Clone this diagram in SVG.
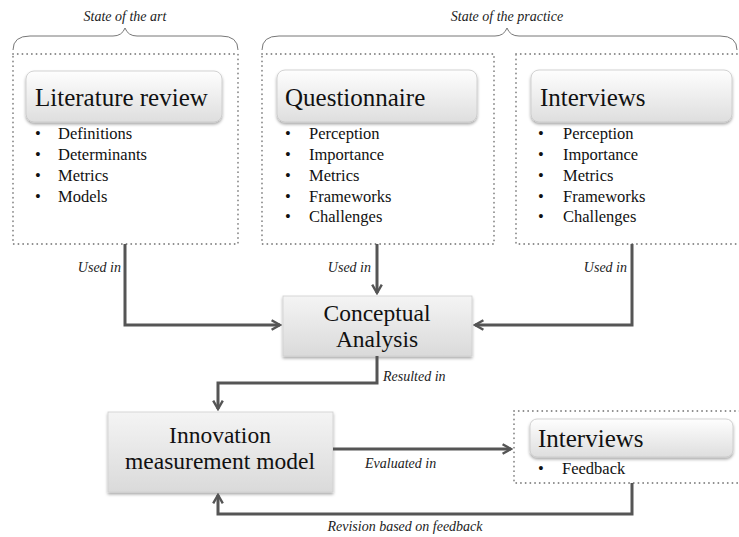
<svg xmlns="http://www.w3.org/2000/svg" width="739" height="537" viewBox="0 0 739 537">
<defs>
<linearGradient id="hg" x1="0" y1="0" x2="0" y2="1"><stop offset="0" stop-color="#fefefe"/><stop offset="1" stop-color="#dedede"/></linearGradient>
<linearGradient id="bg" x1="0" y1="0" x2="0" y2="1"><stop offset="0" stop-color="#f4f4f4"/><stop offset="1" stop-color="#dadada"/></linearGradient>
<filter id="sh" x="-10%" y="-10%" width="120%" height="130%"><feDropShadow dx="0" dy="2" stdDeviation="1.5" flood-color="#000" flood-opacity="0.35"/></filter>
<marker id="ah" viewBox="0 0 10 10" refX="8" refY="5" markerWidth="4" markerHeight="4" orient="auto" markerUnits="strokeWidth"><path d="M1,1 L8,5 L1,9" fill="none" stroke="#555" stroke-width="2"/></marker>
</defs>
<style>
.dot{fill:none;stroke:#8a8a8a;stroke-width:1.8;stroke-dasharray:0.1 4.6;stroke-linecap:round}
.hdr{fill:url(#hg);stroke:#c8c8c8;stroke-width:0.8;filter:url(#sh)}
.blk{fill:url(#bg);stroke:#cfcfcf;stroke-width:0.8;filter:url(#sh)}
.ht{font-family:"Liberation Serif",serif;font-size:25px;fill:#111}
.bt{font-family:"Liberation Serif",serif;font-size:23.5px;fill:#111;text-anchor:middle}
.li{font-family:"Liberation Serif",serif;font-size:16.5px;fill:#111}
.lab{font-family:"Liberation Serif",serif;font-style:italic;font-size:14px;fill:#222}
.brace{fill:none;stroke:#777;stroke-width:1}
.con{fill:none;stroke:#555;stroke-width:3;marker-end:url(#ah)}
</style>
<g id="brace-art">
<path class="brace" d="M13,50 Q13,36 30,36 L113,36 Q122,36 125,28 Q128,36 137,36 L221,36 Q238,36 238,50"/>
<text class="lab" x="125" y="21" text-anchor="middle">State of the art</text>
</g>
<g id="brace-practice">
<path class="brace" d="M262,50 Q262,36 279,36 L495,36 Q504,36 507,28 Q510,36 519,36 L720,36 Q737,36 737,50"/>
<text class="lab" x="507" y="21" text-anchor="middle">State of the practice</text>
</g>
<g id="literature">
<rect class="dot" x="13" y="54" width="225" height="190"/>
<rect class="hdr" x="26" y="71" width="196" height="51" rx="8"/>
<text class="ht" x="35" y="106">Literature review</text>
<g class="li"><text x="35" y="139">•</text><text x="58" y="139">Definitions</text>
<text x="35" y="160">•</text><text x="58" y="160">Determinants</text>
<text x="35" y="181">•</text><text x="58" y="181">Metrics</text>
<text x="35" y="202">•</text><text x="58" y="202">Models</text></g>
</g>
<g id="questionnaire">
<rect class="dot" x="262" y="54" width="232" height="190"/>
<rect class="hdr" x="277" y="70" width="200" height="52" rx="8"/>
<text class="ht" x="285" y="106">Questionnaire</text>
<g class="li"><text x="285" y="139">•</text><text x="309" y="139">Perception</text>
<text x="285" y="160">•</text><text x="309" y="160">Importance</text>
<text x="285" y="181">•</text><text x="309" y="181">Metrics</text>
<text x="285" y="202">•</text><text x="309" y="202">Frameworks</text>
<text x="285" y="222">•</text><text x="309" y="222">Challenges</text></g>
</g>
<g id="interviews1">
<rect class="dot" x="516" y="54" width="224" height="190"/>
<rect class="hdr" x="531" y="70" width="201" height="52" rx="8"/>
<text class="ht" x="540" y="106">Interviews</text>
<g class="li"><text x="538" y="139">•</text><text x="563" y="139">Perception</text>
<text x="538" y="160">•</text><text x="563" y="160">Importance</text>
<text x="538" y="181">•</text><text x="563" y="181">Metrics</text>
<text x="538" y="202">•</text><text x="563" y="202">Frameworks</text>
<text x="538" y="222">•</text><text x="563" y="222">Challenges</text></g>
</g>
<g id="conceptual">
<rect class="blk" x="283" y="296" width="189" height="60"/>
<text class="bt" x="377" y="321">Conceptual</text>
<text class="bt" x="377" y="347">Analysis</text>
</g>
<g id="innovation">
<rect class="blk" x="108" y="412" width="225" height="80"/>
<text class="bt" x="220" y="443">Innovation</text>
<text class="bt" x="220" y="469">measurement model</text>
</g>
<g id="interviews2">
<rect class="dot" x="514" y="411" width="226" height="72"/>
<rect class="hdr" x="530" y="419" width="203" height="38" rx="7"/>
<text class="ht" x="538" y="447">Interviews</text>
<g class="li"><text x="538" y="474">•</text><text x="562" y="474">Feedback</text></g>
</g>
<g id="connectors">
<path class="con" d="M125,244 V325 H280"/>
<path class="con" d="M377,244 V293"/>
<path class="con" d="M632,244 V325 H475"/>
<path class="con" d="M377,356 V383 H218 V409"/>
<path class="con" d="M333,449 H511"/>
<path class="con" d="M632,483 V514 H218 V495"/>
<text class="lab" x="121" y="272" text-anchor="end">Used in</text>
<text class="lab" x="371" y="272" text-anchor="end">Used in</text>
<text class="lab" x="627" y="272" text-anchor="end">Used in</text>
<text class="lab" x="383" y="381">Resulted in</text>
<text class="lab" x="365" y="468">Evaluated in</text>
<text class="lab" x="405" y="531" text-anchor="middle">Revision based on feedback</text>
</g>
</svg>
